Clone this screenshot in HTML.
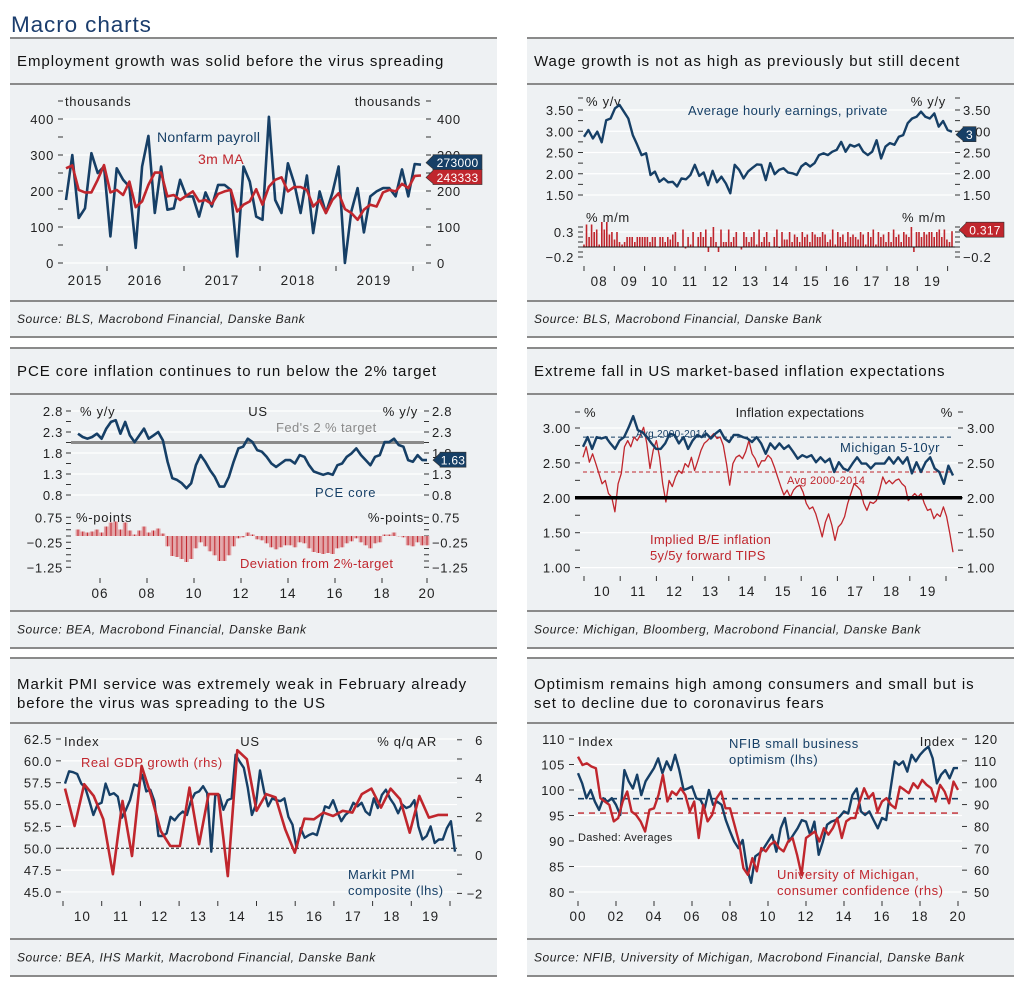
<!DOCTYPE html>
<html><head><meta charset="utf-8"><title>Macro charts</title>
<style>
html,body{margin:0;padding:0;background:#fff;}
svg{display:block;font-family:"Liberation Sans",sans-serif;}
</style></head>
<body>
<svg id="root" xmlns="http://www.w3.org/2000/svg" width="1019" height="992" viewBox="0 0 1019 992"></svg>
<script>
// ---------- DATA ----------
// Chart 1: Nonfarm payroll (thousands), monthly
const payrollVals=[175,300,125,152,305,250,268,74,263,231,212,42,268,353,139,268,148,152,231,185,185,129,196,157,217,217,203,18,268,226,129,120,406,175,139,277,222,139,243,83,199,139,194,268,0,143,208,85,185,199,208,208,185,260,185,275,273];
const payrollMA=[263,271,203,196,196,231,272,196,203,189,226,155,171,217,251,251,185,189,175,187,199,171,175,164,192,199,203,143,162,171,205,162,212,231,238,199,211,211,203,157,175,139,175,194,150,139,120,148,162,157,196,203,199,220,208,242,243];
const empYearLabels=['2015','2016','2017','2018','2019'];
const empTicks=[0,100,200,300,400];
// Chart 2: Average hourly earnings y/y and m/m
const ahePct=[2.87,3.03,2.83,2.99,2.74,3.26,3.30,3.54,3.62,3.46,3.30,2.91,2.68,2.44,2.48,1.97,2.05,1.81,1.89,1.80,1.81,1.70,1.89,1.87,1.97,2.21,1.95,2.03,1.73,2.07,1.80,1.93,1.77,1.54,2.21,2.09,1.89,2.05,2.14,2.22,2.21,1.85,2.25,1.99,2.09,2.13,2.03,2.01,1.97,2.17,2.25,2.17,2.25,2.44,2.48,2.44,2.52,2.56,2.75,2.52,2.68,2.64,2.69,2.52,2.44,2.52,2.79,2.36,2.64,2.72,2.68,2.87,2.91,3.19,3.30,3.34,3.46,3.34,3.30,3.42,3.11,3.24,3.03,2.99];
const aheMoM=[0.05,0.45,0.2,0.45,0.3,0.35,0.05,0.5,0.35,0.5,0.25,0.3,
0.15,0.3,0.1,0.05,0.1,0.2,0.2,0.2,0.1,0.2,0.2,0.2,
0.2,0.2,0.1,0.2,0.2,0.0,0.2,0.2,0.1,0.2,0.15,0.25,
0.3,0.1,0.0,0.35,-0.03,0.2,0.05,0.3,0.0,0.2,0.3,0.2,
0.35,-0.1,0.2,0.4,0.1,-0.1,0.35,0.1,0.1,0.35,0.1,0.2,
0.3,0.0,-0.05,0.3,0.2,0.1,0.2,0.3,0.05,0.35,0.1,0.2,
0.3,0.1,0.0,0.2,0.35,-0.02,0.3,0.15,0.15,0.3,0.1,0.25,
0.2,0.1,0.3,0.2,0.25,0.1,0.3,0.25,0.2,0.2,0.3,0.25,
0.1,0.15,0.35,0.05,0.3,0.2,0.25,0.1,0.3,0.2,0.25,0.2,
0.15,0.3,0.25,0.05,0.3,0.2,0.35,0.05,0.3,0.2,0.25,0.1,
0.3,0.1,0.35,0.2,0.25,0.1,0.3,0.25,0.2,0.4,-0.1,0.3,
0.3,0.2,0.3,0.25,0.3,0.3,0.2,0.3,0.35,0.2,0.35,0.15,0.1,0.317];
const aheYearLabels=['08','09','10','11','12','13','14','15','16','17','18','19'];
const aheTicks=[1.5,2.0,2.5,3.0,3.5];
// Chart 3: PCE core
const pceVals=[2.26,2.18,2.14,2.18,2.26,2.14,2.38,2.54,2.58,2.26,2.54,2.22,2.06,2.22,2.38,2.14,2.22,2.30,2.10,1.59,1.20,1.16,1.08,0.96,1.08,1.51,1.75,1.59,1.39,1.23,1.00,1.00,1.23,1.59,1.91,1.95,2.14,2.06,1.87,1.83,1.71,1.55,1.47,1.55,1.63,1.63,1.55,1.75,1.71,1.51,1.36,1.32,1.28,1.32,1.28,1.51,1.55,1.71,1.79,1.91,1.75,1.63,1.51,1.71,1.75,2.06,2.06,2.14,1.99,1.95,1.63,1.59,1.75,1.63,1.63];
const pceTarget=2.0;
const pceYearLabels=['06','08','10','12','14','16','18','20'];
const pceTicks=[0.8,1.3,1.8,2.3,2.8];
const pceDevTicks=[0.75,-0.25,-1.25];
// Chart 4: Inflation expectations
const michVals=[2.73,2.87,2.70,2.87,2.85,2.87,2.78,2.70,2.82,2.87,3.01,3.17,2.97,2.94,2.87,2.78,2.70,2.70,2.78,2.92,2.90,2.78,2.87,2.70,2.82,2.90,2.87,2.92,2.85,2.92,2.97,2.85,2.80,2.90,2.90,2.87,2.85,2.80,2.87,2.78,2.63,2.78,2.70,2.78,2.70,2.75,2.66,2.56,2.61,2.58,2.61,2.51,2.58,2.51,2.56,2.37,2.51,2.42,2.39,2.49,2.58,2.49,2.49,2.42,2.49,2.49,2.49,2.58,2.49,2.58,2.49,2.58,2.35,2.51,2.37,2.51,2.58,2.42,2.37,2.20,2.46,2.32];
const tipsVals=[2.58,2.73,2.51,2.63,2.49,2.35,2.20,2.25,2.06,2.01,1.80,2.20,2.35,2.73,2.82,2.73,2.87,2.82,2.90,3.01,2.78,2.42,2.68,2.82,2.58,2.20,1.94,2.25,2.16,2.30,2.39,2.35,2.49,2.44,2.58,2.39,2.53,2.68,2.78,2.82,2.87,2.92,2.85,2.87,2.75,2.49,2.18,2.49,2.58,2.61,2.56,2.66,2.82,2.63,2.56,2.44,2.53,2.53,2.61,2.56,2.44,2.30,2.16,2.04,2.11,2.01,2.11,2.16,2.18,2.08,1.92,1.84,1.87,1.77,1.61,1.44,1.65,1.77,1.61,1.39,1.58,1.63,1.73,1.92,2.06,2.20,2.16,2.11,1.92,1.82,1.94,1.92,1.96,2.11,2.30,2.20,2.25,2.20,2.25,2.27,2.20,2.16,1.96,2.01,2.06,2.01,2.06,1.92,1.82,1.84,1.70,1.77,1.73,1.87,1.73,1.49,1.22];
const michAvg=2.87;
const tipsAvg=2.37;
const ieYearLabels=['10','11','12','13','14','15','16','17','18','19'];
const ieTicks=[1.0,1.5,2.0,2.5,3.0];
// Chart 5: PMI and GDP
const pmiVals=[57.4,58.8,58.7,58.5,57.4,56.9,55.4,53.8,55.0,55.2,57.4,56.1,56.3,55.9,53.5,54.4,55.5,57.3,57.1,58.4,56.5,56.7,55.4,51.4,51.4,51.7,53.6,53.2,53.8,54.2,53.8,55.4,56.3,56.5,57.1,56.3,49.6,56.1,56.1,54.4,55.5,55.7,60.7,59.9,59.2,56.9,53.8,55.0,58.9,56.5,54.8,55.7,55.5,55.4,55.7,53.6,52.7,50.0,52.3,51.2,51.5,51.7,51.5,53.1,54.8,54.6,55.5,54.2,53.1,53.8,54.2,55.2,54.8,55.2,54.2,53.8,55.7,54.6,56.1,56.7,55.7,55.0,54.0,55.0,54.6,54.8,55.5,52.5,51.0,51.4,52.5,50.6,51.0,51.0,52.3,53.1,49.6];
const gdpVals=[3.46,1.51,3.69,3.08,1.86,-1.0,2.82,-0.05,4.64,3.08,1.25,0.47,0.47,3.51,0.56,3.17,3.17,-1.1,5.46,4.99,2.30,3.17,3.0,1.34,0.12,1.89,1.86,2.21,2.03,2.30,2.21,3.17,3.46,2.47,3.46,2.90,1.16,3.08,1.95,2.09,2.09];
const pmiYearLabels=['10','11','12','13','14','15','16','17','18','19'];
const pmiTicks=[45.0,47.5,50.0,52.5,55.0,57.5,60.0,62.5];
const gdpTicks=[-2,0,2,4,6];
// Chart 6: NFIB and Michigan consumer confidence
const nfibVals=[103.3,101.3,98.4,100.0,97.7,96.1,98.4,97.7,98.4,97.1,95.1,103.9,101.7,100.3,103.0,99.0,101.7,103.0,104.3,106.2,103.3,105.6,103.9,106.9,103.9,100.0,100.3,100.7,98.4,98.1,96.4,100.0,97.1,97.7,97.1,94.1,91.9,89.9,88.6,90.2,84.7,81.8,87.0,87.6,88.6,89.9,91.2,87.9,92.5,94.5,89.9,91.2,92.5,94.1,93.8,91.2,93.8,87.3,89.9,93.2,93.8,94.1,94.8,95.8,95.4,99.0,100.3,95.8,95.1,95.8,94.1,92.5,94.5,94.1,100.0,105.6,104.9,105.6,103.6,106.9,105.6,106.9,107.8,108.5,106.2,101.3,103.0,103.9,102.3,104.3,104.3];
const umichVals=[111.9,108.1,108.9,107.4,106.6,92.9,91.4,89.9,82.3,83.8,91.4,96.0,86.8,85.3,82.3,77.7,87.6,88.3,94.4,103.6,91.4,96.0,94.4,97.5,94.4,86.8,91.4,74.7,89.9,82.3,85.3,92.9,96.0,88.3,88.3,80.7,73.1,60.9,57.9,65.5,59.5,70.1,68.6,71.6,73.1,70.1,68.6,73.1,74.7,67.0,57.9,74.7,76.2,77.7,73.1,79.2,76.2,79.2,83.8,74.7,82.3,83.8,83.8,91.4,97.5,92.9,95.2,86.8,91.4,92.9,89.9,88.3,98.2,96.7,95.2,99.8,97.5,101.3,99.0,97.5,91.4,99.0,96.0,90.6,100.5,96.7];
const nfibAvg=98.3;
const umichAvg=86.1;
const confYearLabels=['00','02','04','06','08','10','12','14','16','18','20'];
const nfibTicks=[80,85,90,95,100,105,110];
const umichTicks=[50,60,70,80,90,100,110,120];

// ---------- HELPERS ----------
const NS='http://www.w3.org/2000/svg';
const root=document.getElementById('root');
const BLUE='#163f66', RED='#c0262d', INK='#222';
function el(tag, attrs, name, parent){
  const e=document.createElementNS(NS,tag);
  for(const k in attrs) e.setAttribute(k, attrs[k]);
  
  
  (parent||root).appendChild(e);
  return e;
}
function txt(x,y,s,name,o){
  o=o||{};
  const t=el('text',{x:x,y:y,'font-size':o.size||13,fill:o.fill||INK,'text-anchor':o.anchor||'start','font-style':o.italic?'italic':'normal','letter-spacing':(o.ls!==undefined?o.ls:0.7)},name);
  t.textContent=s;
  return t;
}
function ln(x1,y1,x2,y2,stroke,w,name,dash){
  const a={x1:x1,y1:y1,x2:x2,y2:y2,stroke:stroke,'stroke-width':w};
  if(dash) a['stroke-dasharray']=dash;
  return el('line',a,name);
}
function series(vals,x0,x1,yf,color,w,name){
  const n=vals.length;
  const pts=vals.map((v,i)=>(x0+(x1-x0)*i/(n-1)).toFixed(1)+','+yf(v).toFixed(1)).join(' ');
  return el('polyline',{points:pts,fill:'none',stroke:color,'stroke-width':w,'stroke-linejoin':'round'},name);
}
function panel(x,top,hdr,src,bot,titles,source,key){
  const w=487;
  el('rect',{x:x,y:top,width:w,height:bot-top,fill:'#eef1f3'},key+'-panel-bg');
  [top,hdr,src,bot].forEach(function(y){ ln(x,y,x+w,y,'#8a8a8a',2,key+'-divider'); });
  titles.forEach(function(t,i){
    const ty = titles.length===1 ? (top+hdr)/2+5 : top+31+i*19;
    txt(x+7,ty,t,key+'-title',{size:15,fill:'#111',ls:0.95});
  });
  txt(x+7,(src+bot)/2+4,source,key+'-source',{size:12,italic:true,fill:'#222',ls:0.55});
}
function yAxis(ticks,yf,lx,rx,fmt,gridL,gridR,key,leftLabelX,rightLabelX,rightAnchor,grid){
  ticks.forEach(function(v){
    const y=yf(v);
    if(grid) ln(gridL,y,gridR,y,'#ffffff',1.2,key+'-gridline');
    if(lx!==null){ ln(lx,y,lx+5,y,'#333',1,key+'-tick-left'); txt(leftLabelX,y+5,fmt(v),key+'-tick-label-left',{anchor:'end'}); }
    if(rx!==null){ ln(rx,y,rx+5,y,'#333',1,key+'-tick-right'); txt(rightLabelX,y+5,fmt(v),key+'-tick-label-right',{anchor:rightAnchor||'start'}); }
  });
}
function minor(vals,yf,lx,rx,key){
  vals.forEach(function(v){ const y=yf(v);
    if(lx!==null) ln(lx,y,lx+5,y,'#333',1,key+'-minor-tick');
    if(rx!==null) ln(rx,y,rx+5,y,'#333',1,key+'-minor-tick'); });
}
function callout(x,yc,label,color,w,key){
  el('polygon',{points:(x-7)+','+yc+' '+x+','+(yc-7)+' '+x+','+(yc-8)+' '+(x+w)+','+(yc-8)+' '+(x+w)+','+(yc+7)+' '+x+','+(yc+7)+' '+x+','+(yc+6),fill:color,stroke:'#333','stroke-width':0.6},key+'-value-box');
  txt(x+w/2,yc+4.5,label,key+'-value-label',{anchor:'middle',fill:'#fff',size:12,ls:0.3});
}
const fmt0=v=>String(v), fmt1=v=>v.toFixed(1), fmt2=v=>v.toFixed(2);
const fmtNeg=v=>(v<0?'\u2212'+Math.abs(v):String(v));

// ---------- PAGE TITLE ----------
txt(11,32,'Macro charts','page-title',{size:22.5,fill:'#1b3d6d',ls:0.9});

// ---------- PANELS ----------
panel(10,38,84,301,337,['Employment  growth was solid before the virus spreading'],'Source: BLS, Macrobond Financial, Danske Bank','employment');
panel(527,38,84,301,337,['Wage growth is not as high as previously but still decent'],'Source: BLS, Macrobond Financial, Danske Bank','wages');
panel(10,348,394,611,648,['PCE core inflation continues to run below the 2% target'],'Source: BEA, Macrobond Financial, Danske Bank','pce');
panel(527,348,394,611,648,['Extreme fall in US market-based inflation  expectations'],'Source: Michigan, Bloomberg, Macrobond Financial, Danske Bank','inflation-exp');
panel(10,658,723,939,976,['Markit PMI  service was extremely weak in February already','before the virus was spreading to the US'],'Source: BEA, IHS Markit, Macrobond Financial, Danske Bank','pmi');
panel(527,658,723,939,976,['Optimism remains high among consumers and small but is','set to decline due to coronavirus fears'],'Source: NFIB, University of Michigan, Macrobond Financial, Danske Bank','confidence');

// ---------- CHART 1 ----------
(function(){
  const yf=v=>263-v*0.36, x0=66, x1=421;
  yAxis(empTicks,yf,58,426,fmt0,63,426,'emp',54,437,'start',true);
  minor([50,150,250,350],yf,58,426,'emp');
  ln(58,101,63,101,'#333',1,'emp-unit-tick'); ln(426,101,431,101,'#333',1,'emp-unit-tick');
  txt(65,106,'thousands','emp-left-unit');
  txt(421,106,'thousands','emp-right-unit',{anchor:'end'});
  [107,184,260,336,413].forEach(function(x){ ln(x,266,x,271,'#333',1,'emp-x-tick'); });
  const labX=[85,145,222,298,374];
  empYearLabels.forEach(function(s,i){ txt(labX[i],285,s,'emp-x-label',{anchor:'middle',size:13.5,ls:1.2}); });
  series(payrollVals,x0,x1,yf,BLUE,2.6,'nonfarm-payroll-line');
  series(payrollMA,x0,x1,yf,RED,2.6,'3m-ma-line');
  txt(157,142,'Nonfarm payroll','nonfarm-payroll-label',{fill:BLUE,size:14,ls:0.3});
  txt(198,164,'3m MA','3m-ma-label',{fill:RED,size:14,ls:0.3});
  callout(433,yf(payrollVals[payrollVals.length-1])-2,'273000',BLUE,49,'payroll-last');
  callout(433,yf(payrollMA[payrollMA.length-1])+2,'243333',RED,49,'ma-last');
})();

// ---------- CHART 2 ----------
(function(){
  const yf=v=>110+(3.5-v)*42.5, x0=584, x1=952;
  yAxis(aheTicks,yf,578,955,fmt2,583,955,'ahe',574,963,'start',true);
  minor([1.75,2.25,2.75,3.25],yf,578,955,'ahe');
  ln(578,98,583,98,'#333',1,'ahe-unit-tick'); ln(955,98,960,98,'#333',1,'ahe-unit-tick');
  txt(586,106,'% y/y','ahe-left-unit');
  txt(946,106,'% y/y','ahe-right-unit',{anchor:'end'});
  txt(688,115,'Average hourly earnings, private','ahe-series-label',{fill:BLUE,size:13,ls:0.4});
  series(ahePct,x0,x1,yf,BLUE,2.4,'ahe-yoy-line');
  callout(963,yf(ahePct[ahePct.length-1])+3,'3',BLUE,13,'ahe-last');
  // bars
  const yb=v=>247-v*50;
  ln(583,yb(0.3),955,yb(0.3),'#fff',1.2,'ahe-bar-gridline');
  [0.3,-0.2].forEach(function(v){ const y=yb(v);
    ln(578,y,583,y,'#333',1,'ahe-bar-tick'); ln(955,y,960,y,'#333',1,'ahe-bar-tick');
    txt(574,y+5,fmtNeg(v),'ahe-bar-label-left',{anchor:'end'}); txt(963,y+5,fmtNeg(v),'ahe-bar-label-right'); });
  [0.4,0.2,0.1,0.0,-0.1].forEach(function(v){ const y=yb(v); ln(578,y,583,y,'#333',1,'ahe-bar-minor'); ln(955,y,960,y,'#333',1,'ahe-bar-minor'); });
  txt(586,222,'% m/m','ahe-bar-left-unit');
  txt(946,222,'% m/m','ahe-bar-right-unit',{anchor:'end'});
  const n=aheMoM.length;
  aheMoM.forEach(function(v,i){
    const x=x0+(x1-x0)*i/(n-1);
    const y=Math.min(yb(v),yb(0)), h=Math.abs(yb(v)-yb(0));
    el('rect',{x:(x-0.8).toFixed(1),y:y.toFixed(1),width:1.6,height:Math.max(h,0.5).toFixed(1),fill:RED},'ahe-mom-bar');
  });
  ln(583,yb(0),955,yb(0),'#111',1,'ahe-bar-zero-line');
  callout(966,yb(aheMoM[n-1])-1,'0.317',RED,38,'ahe-mom-last');
  for(let i=0;i<=12;i++){ const x=584+i*30.3; ln(x,266,x,271,'#333',1,'ahe-x-tick'); }
  aheYearLabels.forEach(function(s,i){ txt(584+30.3*(i+0.5),286,s,'ahe-x-label',{anchor:'middle',size:13.5,ls:1}); });
})();

// ---------- CHART 3 ----------
(function(){
  const yf=v=>411+(2.8-v)*42, x0=78, x1=427;
  yAxis(pceTicks,yf,66,424,fmt1,71,424,'pce',63,432,'start',true);
  minor([1.05,1.55,2.05,2.55],yf,66,424,'pce');
  txt(80,416,'% y/y','pce-left-unit');
  txt(258,416,'US','pce-us-label',{anchor:'middle'});
  txt(418,416,'% y/y','pce-right-unit',{anchor:'end'});
  ln(71,yf(2.05),424,yf(2.05),'#8a8a8a',3,'fed-target-line');
  txt(276,432,"Fed's 2 % target",'fed-target-label',{fill:'#8a8a8a',size:13,ls:0.4});
  series(pceVals,x0,x1,yf,BLUE,2.6,'pce-core-line');
  txt(315,497,'PCE core','pce-core-label',{fill:BLUE,size:13});
  callout(440,yf(pceVals[pceVals.length-1]),'1.63',BLUE,26,'pce-last');
  const yb=v=>536-v*25;
  pceDevTicks.forEach(function(v){ const y=yb(v);
    ln(66,y,71,y,'#333',1,'pce-dev-tick'); ln(424,y,429,y,'#333',1,'pce-dev-tick');
    txt(63,y+5,(v<0?'\u2212':'')+Math.abs(v).toFixed(2),'pce-dev-label-left',{anchor:'end'});
    txt(432,y+5,(v<0?'\u2212':'')+Math.abs(v).toFixed(2),'pce-dev-label-right'); });
  minor([0.5,0.25,0,-0.5,-0.75,-1.0],yb,66,424,'pce-dev');
  txt(76,522,'%-points','pce-dev-left-unit');
  txt(424,522,'%-points','pce-dev-right-unit',{anchor:'end'});
  const n=pceVals.length, bw=(x1-x0)/(n-1);
  pceVals.forEach(function(v,i){
    const d=v-pceTarget, x=x0+bw*i;
    const y=Math.min(yb(d),yb(0)), h=Math.abs(yb(d)-yb(0));
    el('rect',{x:(x-bw/2).toFixed(1),y:y.toFixed(1),width:bw.toFixed(2),height:h.toFixed(1),fill:'#e2a3a6'},'pce-deviation-bar');
    el('rect',{x:(x-0.5).toFixed(1),y:y.toFixed(1),width:1,height:h.toFixed(1),fill:'#c0262d'},'pce-deviation-bar-stroke');
  });
  txt(240,568,'Deviation from 2%-target','deviation-label',{fill:RED,size:13,ls:0.4});
  [100,147,194,241,288,335,382,427].forEach(function(x,i){
    ln(x,578,x,583,'#333',1,'pce-x-tick');
    txt(x,598,pceYearLabels[i],'pce-x-label',{anchor:'middle',size:13.5,ls:1});
  });
})();

// ---------- CHART 4 ----------
(function(){
  const yf=v=>428+(3-v)*69.8, x0=583, x1=953;
  yAxis(ieTicks,yf,575,958,fmt2,580,958,'ie',571,967,'start',true);
  minor([1.25,1.75,2.25,2.75],yf,575,958,'ie');
  ln(575,412,580,412,'#333',1,'ie-unit-tick'); ln(958,412,963,412,'#333',1,'ie-unit-tick');
  txt(584,417,'%','ie-left-unit');
  txt(800,417,'Inflation expectations','ie-chart-label',{anchor:'middle',ls:0.3});
  txt(953,417,'%','ie-right-unit',{anchor:'end'});
  ln(583,yf(michAvg),953,yf(michAvg),BLUE,1,'michigan-avg-line','4,3');
  ln(583,yf(tipsAvg),953,yf(tipsAvg),RED,1,'tips-avg-line','4,3');
  series(tipsVals,x0,x1,yf,RED,1.3,'tips-breakeven-line');
  series(michVals,x0,x1,yf,BLUE,2.4,'michigan-5-10yr-line');
  ln(575,yf(2.0),962,yf(2.0),'#000',3.5,'two-percent-line');
  txt(636,437,'Avg 2000-2014','michigan-avg-label',{fill:BLUE,size:10,ls:0.3});
  txt(787,484,'Avg 2000-2014','tips-avg-label',{fill:RED,size:11,ls:0.3});
  txt(840,452,'Michigan 5-10yr','michigan-label',{fill:BLUE,size:13,ls:0.5});
  txt(650,544,'Implied B/E inflation','tips-label-1',{fill:RED,size:13,ls:0.3});
  txt(650,560,'5y/5y forward TIPS','tips-label-2',{fill:RED,size:13,ls:0.3});
  for(let i=0;i<=10;i++){ const x=584+i*36.2; ln(x,576,x,581,'#333',1,'ie-x-tick'); }
  ieYearLabels.forEach(function(s,i){ txt(584+36.2*(i+0.5),596,s,'ie-x-label',{anchor:'middle',size:13.5,ls:1}); });
})();

// ---------- CHART 5 ----------
(function(){
  const yf=v=>739+(62.5-v)*8.74, yr=v=>855-v*19.2, x0=65, x1=455;
  yAxis(pmiTicks,yf,56,null,fmt1,61,457,'pmi',52,0,'start',true);
  gdpTicks.forEach(function(v){ const y=yr(v); ln(457,y,462,y,'#333',1,'gdp-tick'); txt(483,y+5,fmtNeg(v),'gdp-tick-label',{anchor:'end'}); });
  minor([-1,1,3,5],yr,null,457,'gdp');
  txt(64,746,'Index','pmi-left-unit');
  txt(250,746,'US','pmi-us-label',{anchor:'middle'});
  txt(437,746,'% q/q AR','gdp-right-unit',{anchor:'end'});
  ln(61,yf(50),457,yf(50),'#111',1,'pmi-50-line','3,2');
  series(pmiVals,x0,x1,yf,BLUE,2.4,'markit-pmi-line');
  series(gdpVals,x0,448,yr,RED,2.6,'real-gdp-line');
  txt(81,767,'Real GDP growth (rhs)','gdp-label',{fill:RED,size:13,ls:0.5});
  txt(348,879,'Markit PMI','pmi-label-1',{fill:BLUE,size:13,ls:0.5});
  txt(348,895,'composite (lhs)','pmi-label-2',{fill:BLUE,size:13,ls:0.5});
  for(let i=0;i<=10;i++){ const x=63+i*38.7; ln(x,901,x,906,'#333',1,'pmi-x-tick'); }
  pmiYearLabels.forEach(function(s,i){ txt(63+38.7*(i+0.5),921,s,'pmi-x-label',{anchor:'middle',size:13.5,ls:1}); });
})();

// ---------- CHART 6 ----------
(function(){
  const yf=v=>739+(110-v)*5.1, yr=v=>739+(120-v)*2.186, x0=578, x1=958;
  yAxis(nfibTicks,yf,569,null,fmt0,574,962,'nfib',565,0,'start',true);
  umichTicks.forEach(function(v){ const y=yr(v); ln(962,y,967,y,'#333',1,'umich-tick'); txt(974,y+5,String(v),'umich-tick-label'); });
  txt(578,746,'Index','conf-left-unit');
  txt(955,746,'Index','conf-right-unit',{anchor:'end'});
  ln(x0,yf(nfibAvg),x1,yf(nfibAvg),BLUE,1.6,'nfib-avg-line','6,5');
  ln(x0,yr(umichAvg),x1,yr(umichAvg),RED,1.4,'umich-avg-line','6,5');
  series(nfibVals,x0,x1,yf,BLUE,2.4,'nfib-line');
  series(umichVals,x0,x1,yr,RED,2.4,'umich-line');
  txt(729,748,'NFIB small business','nfib-label-1',{fill:BLUE,size:13,ls:0.6});
  txt(729,764,'optimism (lhs)','nfib-label-2',{fill:BLUE,size:13,ls:0.6});
  txt(578,841,'Dashed: Averages','dashed-note',{size:11,ls:0.3});
  txt(777,879,'University of Michigan,','umich-label-1',{fill:RED,size:13,ls:0.5});
  txt(777,895,'consumer confidence (rhs)','umich-label-2',{fill:RED,size:13,ls:0.5});
  confYearLabels.forEach(function(s,i){ const x=578+i*38; ln(x,901,x,906,'#333',1,'conf-x-tick'); txt(x,921,s,'conf-x-label',{anchor:'middle',size:13.5,ls:1}); });
})();
</script>
</body></html>
